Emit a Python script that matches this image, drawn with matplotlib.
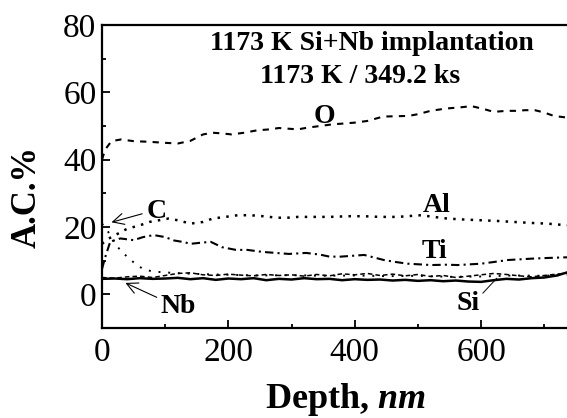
import matplotlib
matplotlib.use("Agg")
import matplotlib.pyplot as plt

plt.rcParams["font.family"] = ["Liberation Serif", "DejaVu Serif"]
plt.rcParams["mathtext.fontset"] = "custom"
plt.rcParams["mathtext.it"] = "Liberation Serif:italic:bold"
plt.rcParams["mathtext.rm"] = "Liberation Serif:bold"

# O (dashed)
o_depth = [0, 5, 15, 30, 50, 75, 100, 120, 140, 160, 175, 190, 205, 225, 245, 265, 280, 295,
           310, 325, 345, 365, 380, 400, 420, 445, 465, 485, 500, 520, 545, 565, 585, 605,
           620, 640, 655, 670, 685, 700, 715, 736]
o_val = [40, 43, 45.5, 46, 45.5, 45.3, 45, 44.8, 45.6, 47.5, 48, 47.8, 47.5, 48, 48.7, 49, 49.4, 49.2,
         49, 49.5, 50, 50.5, 50.7, 51, 51.5, 52.8, 52.9, 53, 53.5, 54.5, 55.2, 55.5, 55.9, 55,
         54.2, 54.5, 54.5, 54.7, 54.7, 54, 53, 52.5]

# Al (dotted)
al_depth = [0, 10, 25, 40, 60, 75, 90, 105, 120, 140, 160, 175, 195, 215, 235, 255, 275, 290,
            310, 330, 360, 390, 415, 440, 468, 490, 505, 525, 547, 575, 600, 625, 652, 680, 705, 736]
al_val = [15, 16.5, 18, 19.5, 20.5, 21.5, 22, 22.5, 22, 21, 21.5, 22.5, 23, 23.5, 23.5, 23.2, 22.8, 22.7,
          23, 23, 23, 23.2, 23.2, 23, 23, 23.3, 23.5, 23, 22.5, 22.2, 22, 21.8, 21.5, 21.2, 21, 20.5]

# Ti (dash-dot)
ti_depth = [0, 5, 13, 29, 50, 65, 82, 100, 114, 130, 140, 155, 172, 190, 212, 230, 254, 275,
            296, 323, 345, 360, 378, 415, 446, 465, 484, 521, 545, 563, 600, 620, 643, 680, 705, 736]
ti_val = [7.5, 11, 15.6, 16.6, 16.1, 17, 17.6, 17, 16, 15.5, 15, 15.3, 15.6, 14, 13.2, 13.2, 12.6, 12.3,
          12, 12.3, 11.8, 11.2, 11.2, 11.7, 10.2, 9.6, 9.1, 8.7, 8.8, 8.7, 9.1, 9.6, 10.2, 10.6, 10.8, 11]

# C (sparse dots)
c_depth = [0, 10, 20, 35, 50, 65, 80, 100, 130, 160, 200, 250, 300, 350, 400, 450, 500, 550,
           600, 650, 700, 736]
c_val = [21, 18.5, 15, 12, 9.5, 7.5, 6.8, 6.5, 6.2, 6.0, 5.8, 5.6, 5.7, 5.5, 5.6, 5.4, 5.5, 5.2,
         5.3, 5.6, 5.5, 5.8]

# Nb (solid) and Si (thin dashed)
low_depth = [0, 20, 40, 60, 80, 100, 120, 140, 160, 180, 200, 220, 240, 260, 280, 300, 320, 340,
             360, 380, 400, 420, 440, 460, 480, 500, 520, 540, 560, 580, 600, 620, 640, 660,
             680, 700, 720, 736]
nb_val = [4.6, 4.7, 4.5, 4.8, 4.6, 4.7, 4.9, 4.5, 4.8, 4.3, 4.7, 4.5, 4.8, 4.2, 4.6, 4.4, 4.8, 4.5,
          4.6, 4.2, 4.5, 4.3, 4.4, 4.1, 4.3, 4.0, 4.2, 3.9, 4.1, 3.8, 3.7, 4.2, 4.6, 4.4,
          4.8, 5.0, 5.6, 6.5]
si_val = [5.0, 4.8, 5.2, 5.4, 5.0, 5.6, 6.2, 6.4, 5.8, 5.6, 6.0, 5.7, 5.5, 5.9, 5.6, 5.8, 5.4, 5.9,
          5.5, 6.1, 5.8, 6.2, 5.6, 6.0, 5.5, 5.9, 5.3, 5.6, 5.0, 5.4, 5.8, 6.2, 5.9, 5.5,
          5.2, 5.6, 6.0, 6.3]

fig = plt.figure(figsize=(5.67, 4.18), dpi=100)
ax = fig.add_axes([102 / 567, 1 - 328 / 418, 1 - 102 / 567, (328 - 25) / 418])

ax.plot(o_depth, o_val, color="black", lw=1.5, linestyle=(0, (3, 3)))
ax.plot(al_depth, al_val, color="black", lw=1.8, linestyle=(0, (1, 2.5)))
ax.plot(ti_depth, ti_val, color="black", lw=1.5, linestyle=(0, (4, 2, 1, 2)))
ax.plot(c_depth, c_val, color="black", lw=1.4, linestyle=(0, (1, 4)))
ax.plot(low_depth, si_val, color="black", lw=1.1, linestyle=(0, (3, 2)))
ax.plot(low_depth, nb_val, color="black", lw=1.8)

ax.set_xlim(0, 736)
ax.set_ylim(-10, 80)
ax.set_xticks([0, 200, 400, 600])
ax.set_xticks([100, 300, 500, 700], minor=True)
ax.set_yticks([0, 20, 40, 60, 80])
ax.set_yticks([-10, 10, 30, 50, 70], minor=True)
ax.tick_params(which="both", direction="in", width=1.3, labelsize=24)
ax.tick_params(which="major", length=6)
ax.tick_params(which="minor", length=3)
ax.tick_params(axis="x", pad=7)
ax.tick_params(axis="y", pad=4)
for side in ["left", "bottom", "top"]:
    ax.spines[side].set_linewidth(1.6)
ax.spines["right"].set_visible(False)

txt = dict(fontsize=20, fontweight="bold", ha="center", va="baseline")
ax.text(427, 72.6, "1173 K Si+Nb implantation", **txt)
ax.text(409, 62.8, "1173 K / 349.2 ks", **txt)
ax.text(352, 50.9, "O", **txt)
ax.text(529, 24.5, "Al", **txt)
ax.text(526, 10.8, "Ti", **txt)

arrow = dict(arrowstyle="->", color="black", lw=0.8, shrinkA=1, shrinkB=0)
ax.annotate("C", xy=(15, 21.4), xytext=(86, 22.7),
            arrowprops=dict(arrow, relpos=(0, 0.45)), **txt)
ax.annotate("Nb", xy=(37, 3.4), xytext=(121, -5.6),
            arrowprops=dict(arrow, relpos=(0, 0.8)), **txt)
ax.annotate("Si", xy=(625, 4.8), xytext=(580, -4.7),
            arrowprops=dict(arrowstyle="-", color="black", lw=0.7, shrinkA=0, shrinkB=0,
                            relpos=(0.95, 0.75)), **txt)

fig.text(345 / 567, 1 - 408 / 418, "Depth, $nm$", fontsize=26, fontweight="bold",
         ha="center", va="baseline")
fig.text(27 / 567, 1 - 197 / 418, "A.C.%", fontsize=25, fontweight="bold",
         rotation=90, ha="center", va="center")

fig.savefig("out.png", dpi=100)
